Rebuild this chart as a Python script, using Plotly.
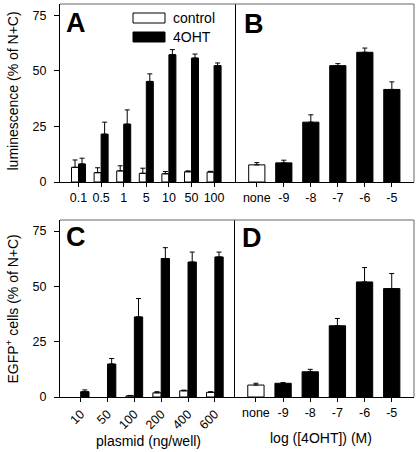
import plotly.graph_objects as go

# ---------------- data ----------------
doseA = ["0.1", "0.5", "1", "5", "10", "50", "100"]
lum_control = [6.6, 4.2, 5.0, 3.9, 3.7, 4.6, 4.5]
lum_control_err = [3.3, 2.2, 2.3, 2.3, 1.0, 0.4, 0.3]
lum_4oht = [8.1, 21.5, 26.0, 45.2, 57.2, 55.7, 52.3]
lum_4oht_err = [2.6, 5.4, 6.4, 3.4, 2.3, 1.8, 1.2]

concB_control = ["none"]
concB_4oht = ["-9", "-8", "-7", "-6", "-5"]
lumB_control = [7.7]
lumB_control_err = [1.0]
lumB_4oht = [8.6, 26.9, 52.3, 58.3, 41.6]
lumB_4oht_err = [1.2, 3.3, 0.9, 1.9, 3.4]

plasmidC = ["10", "50", "100", "200", "400", "600"]
egfp_control = [None, None, 0.5, 1.9, 2.8, 2.1]
egfp_control_err = [0, 0, 0.2, 0.5, 0.3, 0.3]
egfp_4oht = [2.4, 14.9, 36.2, 62.6, 61.0, 63.3]
egfp_4oht_err = [0.8, 2.5, 8.3, 4.9, 4.5, 2.2]

concD_control = ["none"]
concD_4oht = ["-9", "-8", "-7", "-6", "-5"]
egfpD_control = [5.4]
egfpD_control_err = [0.8]
egfpD_4oht = [6.2, 11.4, 32.2, 52.0, 49.0]
egfpD_4oht_err = [0.3, 1.1, 3.3, 6.5, 6.8]

y_ticks = [0, 25, 50, 75]

# ---------------- layout geometry ----------------
W, H = 418, 452
ML, MR, MT, MB = 60, 4, 4, 55
PW, PH = W - ML - MR, H - MT - MB
FONT = "Liberation Sans, Arial, sans-serif"


def px_x(px):
    return (px - ML) / PW


def px_y(py):
    return (H - MB - py) / PH


WHITE = dict(color="white", line=dict(color="black", width=1))
BLACK = dict(color="black", line=dict(color="black", width=1))


def err(vals):
    return dict(type="data", array=vals, arrayminus=[0] * len(vals), symmetric=False,
                color="black", thickness=1, width=2.5)


fig = go.Figure()

# Panel A
fig.add_trace(go.Bar(x=doseA, y=lum_control, error_y=err(lum_control_err), marker=WHITE,
                     width=0.31, offset=-0.31, name="control", xaxis="x", yaxis="y"))
fig.add_trace(go.Bar(x=doseA, y=lum_4oht, error_y=err(lum_4oht_err), marker=BLACK,
                     width=0.31, offset=0, name="4OHT", xaxis="x", yaxis="y"))
# Panel B
fig.add_trace(go.Bar(x=concB_control, y=lumB_control, error_y=err(lumB_control_err), marker=WHITE,
                     width=0.6, name="control", xaxis="x2", yaxis="y2"))
fig.add_trace(go.Bar(x=concB_4oht, y=lumB_4oht, error_y=err(lumB_4oht_err), marker=BLACK,
                     width=0.6, name="4OHT", xaxis="x2", yaxis="y2"))
# Panel C
fig.add_trace(go.Bar(x=plasmidC, y=egfp_control, error_y=err(egfp_control_err), marker=WHITE,
                     width=0.31, offset=-0.31, name="control", xaxis="x3", yaxis="y3"))
fig.add_trace(go.Bar(x=plasmidC, y=egfp_4oht, error_y=err(egfp_4oht_err), marker=BLACK,
                     width=0.31, offset=0, name="4OHT", xaxis="x3", yaxis="y3"))
# Panel D
fig.add_trace(go.Bar(x=concD_control, y=egfpD_control, error_y=err(egfpD_control_err), marker=WHITE,
                     width=0.6, name="control", xaxis="x4", yaxis="y4"))
fig.add_trace(go.Bar(x=concD_4oht, y=egfpD_4oht, error_y=err(egfpD_4oht_err), marker=BLACK,
                     width=0.6, name="4OHT", xaxis="x4", yaxis="y4"))

xdivA = px_x(236)
xdivC = px_x(235)
top_dom = [px_y(182), 1]
bot_dom = [0, px_y(220)]

xcommon = dict(type="category", showline=True, linecolor="black", linewidth=1, ticks="outside",
               ticklen=4, tickcolor="black", showgrid=False, zeroline=False, automargin=False,
               tickfont=dict(size=12.5, color="black", family=FONT), fixedrange=True)
ycommon = dict(range=[0, 80], showline=True, linecolor="black", linewidth=1, showgrid=False,
               zeroline=False, tickvals=y_ticks, fixedrange=True, automargin=False)

fig.update_layout(
    width=W, height=H, autosize=False,
    margin=dict(l=ML, r=MR, t=MT, b=MB, autoexpand=False),
    paper_bgcolor="white", plot_bgcolor="white",
    barmode="overlay", showlegend=False,
    font=dict(family=FONT, color="black", size=12.5),
    xaxis=dict(xcommon, domain=[0, xdivA], anchor="y", range=[-0.82, 6.97],
               categoryorder="array", categoryarray=doseA),
    xaxis2=dict(xcommon, domain=[xdivA, 1], anchor="y2", range=[-0.77, 5.82],
                categoryorder="array", categoryarray=concB_control + concB_4oht),
    xaxis3=dict(xcommon, domain=[0, xdivC], anchor="y3", range=[-0.77, 5.75], tickangle=-45,
                categoryorder="array", categoryarray=plasmidC),
    xaxis4=dict(xcommon, domain=[xdivC, 1], anchor="y4", range=[-0.77, 5.82],
                categoryorder="array", categoryarray=concD_control + concD_4oht),
    yaxis=dict(ycommon, domain=top_dom, anchor="x", ticks="outside", ticklen=5, tickcolor="black",
               tickfont=dict(size=12.5, color="black", family=FONT), ticklabelstandoff=5),
    yaxis2=dict(ycommon, domain=top_dom, anchor="x2", showticklabels=False, ticks=""),
    yaxis3=dict(ycommon, domain=bot_dom, anchor="x3", ticks="outside", ticklen=5, tickcolor="black",
                tickfont=dict(size=12.5, color="black", family=FONT), ticklabelstandoff=5),
    yaxis4=dict(ycommon, domain=bot_dom, anchor="x4", showticklabels=False, ticks=""),
)

# gray frame (top and right borders)
frame = dict(color="#666666", width=1)
shapes = [
    dict(type="line", xref="paper", yref="paper", x0=0, x1=1, y0=1, y1=1, line=frame),
    dict(type="line", xref="paper", yref="paper", x0=1, x1=1, y0=top_dom[0], y1=1, line=frame),
    dict(type="line", xref="paper", yref="paper", x0=0, x1=1, y0=bot_dom[1], y1=bot_dom[1], line=frame),
    dict(type="line", xref="paper", yref="paper", x0=1, x1=1, y0=0, y1=bot_dom[1], line=frame),
    # legend swatches
    dict(type="rect", xref="paper", yref="paper", x0=px_x(133), x1=px_x(165), y0=px_y(23), y1=px_y(13),
         line=dict(color="black", width=1), fillcolor="white"),
    dict(type="rect", xref="paper", yref="paper", x0=px_x(133), x1=px_x(165), y0=px_y(42), y1=px_y(32),
         line=dict(color="black", width=1), fillcolor="black"),
]
fig.update_layout(shapes=shapes)

ann = []
# legend labels
for txt, x, y in [("control", 171, 18), ("4OHT", 171, 37)]:
    ann.append(dict(text=txt, x=px_x(x), y=px_y(y), xref="paper", yref="paper", xanchor="left",
                    yanchor="middle", showarrow=False, font=dict(size=14, family=FONT, color="black")))
# panel letters
for txt, x, y in [("A", 64, 23), ("B", 242, 24), ("C", 64, 237), ("D", 240, 238)]:
    ann.append(dict(text="<b>%s</b>" % txt, x=px_x(x), y=px_y(y), xref="paper", yref="paper",
                    xanchor="left", yanchor="middle", showarrow=False,
                    font=dict(size=27, family=FONT, color="black")))
# axis titles
for txt, x, y, ang in [("luminescence (% of N+C)", 12.5, 91, -90),
                       ("EGFP<sup>+</sup> cells (% of N+C)", 12.5, 309, -90),
                       ("plasmid (ng/well)", 148, 441, 0),
                       ("log ([4OHT]) (M)", 321, 438, 0)]:
    ann.append(dict(text=txt, x=px_x(x), y=px_y(y), xref="paper", yref="paper",
                    xanchor="center", yanchor="middle", textangle=ang, showarrow=False,
                    font=dict(size=14, family=FONT, color="black")))
fig.update_layout(annotations=ann)

fig.write_html("out.html", config={"displayModeBar": False},
               post_script="document.body.style.margin='0px';")
